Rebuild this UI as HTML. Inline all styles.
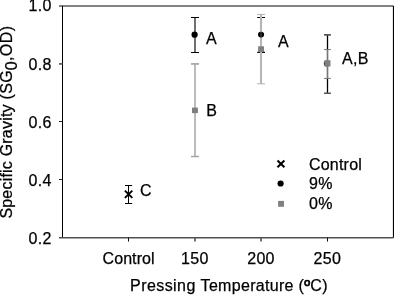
<!DOCTYPE html>
<html><head><meta charset="utf-8"><title>Specific Gravity vs Pressing Temperature</title>
<style>
html,body{margin:0;padding:0;background:#fff;}
svg{display:block;}
text{font-family:"Liberation Sans",Arial,Helvetica,sans-serif;font-size:16px;letter-spacing:0.3px;fill:#000;stroke:#000;stroke-width:0.25px;}
</style></head><body>
<svg width="394" height="295" viewBox="0 0 394 295">
<rect width="394" height="295" fill="#fff"/>
<!-- axes -->
<g fill="none" stroke-width="1">
<path d="M59 6H393" stroke="#5a5a5a" stroke-width="1.5"/>
<path d="M62.5 5.8V237.6" stroke="#000"/>
<path d="M393.45 5.8V237.8" stroke="#000" stroke-width="1.1"/>
<path d="M59 237.75H393.5" stroke="#505050" stroke-width="1.7"/>
<path d="M59 63.9H62.5" stroke="#626262" stroke-width="1.8"/><path d="M59 121.5H62.5M59 179.5H62.5" stroke="#222" stroke-width="1.05"/>
<path d="M128.5 237.6V241.6M327.5 237.6V241.6" stroke="#111" stroke-width="1"/><path d="M195 237.6V241.6M261 237.6V241.6" stroke="#5a5a5a" stroke-width="1.7"/>
</g>
<!-- y tick labels -->
<g text-anchor="end">
<text x="51.6" y="11.2">1.0</text>
<text x="51.6" y="70.1">0.8</text>
<text x="51.6" y="128">0.6</text>
<text x="51.6" y="185.9">0.4</text>
<text x="51.6" y="243.6">0.2</text>
</g>
<!-- x tick labels -->
<g text-anchor="middle">
<text x="128.6" y="264.2" style="letter-spacing:0.08px">Control</text>
<text x="194.8" y="264">150</text>
<text x="261" y="264">200</text>
<text x="327.3" y="264">250</text>
<text x="130.1" y="291.3" text-anchor="start" style="letter-spacing:0.31px"><tspan style="letter-spacing:0.42px">Pressing </tspan>Temperature (<tspan style="stroke-width:0.7px">º</tspan>C)</text>
</g>
<text transform="translate(12.2,218.6) rotate(-90)" style="letter-spacing:0.43px"><tspan style="letter-spacing:0.2px">Specific Gravity </tspan>(SG<tspan dx="-0.5" dy="4.5">0</tspan><tspan dy="-4.5">,OD)</tspan></text>

<!-- 150: 0% -->
<g fill="none">
<path d="M195 64V156.5" stroke="#bcbcbc" stroke-width="2"/>
<path d="M191 63.9H199" stroke="#a6a6a6" stroke-width="1.7"/>
<path d="M191 156.5H199" stroke="#a4a4a4" stroke-width="1.5"/>
</g>
<rect x="192" y="107.6" width="5.9" height="5.5" fill="#7e7e7e"/>
<!-- 150: 9% -->
<g fill="none">
<path d="M195 17.5V52.5" stroke="#707070" stroke-width="2"/>
<path d="M191 17.5H199M191 52.5H199" stroke="#000" stroke-width="1.1"/>
</g>
<circle cx="194.6" cy="34.7" r="3.1" fill="#000"/>

<!-- 200 -->
<g fill="none">
<path d="M257.2 17.5H265M257.2 52.4H265" stroke="#000" stroke-width="1.1"/>
<path d="M261 14.4V83.8" stroke="#b6b6b6" stroke-width="2.1"/>
<path d="M257.2 14.4H265M257.2 83.8H265" stroke="#b0b0b0" stroke-width="1"/>
</g>
<ellipse cx="261.05" cy="34.6" rx="3.05" ry="2.85" fill="#000"/>
<path d="M261 32V37.2" stroke="#666" stroke-width="0.8" fill="none"/>
<rect x="258.1" y="46.3" width="5.9" height="5.8" fill="#808080"/>

<!-- 250 -->
<g fill="none">
<path d="M327.5 34.9V93.2" stroke="#000" stroke-width="1.3"/>
<path d="M324 34.9H330.9M324 93.2H330.9" stroke="#585858" stroke-width="1.6"/>
</g>
<circle cx="326.8" cy="63.4" r="3" fill="#222"/>
<g fill="none">
<path d="M327.5 49.6V78.4" stroke="#787878" stroke-width="1.15"/>
<path d="M324 49.6H330.9M324 78.4H330.9" stroke="#777" stroke-width="1"/>
</g>
<rect x="324.5" y="60.2" width="6" height="6.3" fill="#808080"/>

<!-- control -->
<g fill="none" stroke="#000">
<path d="M128.5 185.5V203.5" stroke-width="1.05"/>
<path d="M125 185.5H132.2M125 203.5H132.2" stroke-width="1"/>
<path d="M124.9 190.6L132.3 197.9M132.3 190.6L124.9 197.9" stroke-width="2"/>
</g>

<!-- letters -->
<text x="140" y="196">C</text>
<text x="206" y="44.2">A</text>
<text x="206.3" y="115.8">B</text>
<text x="278" y="46.8">A</text>
<text x="342" y="63.8">A,B</text>

<!-- legend -->
<path d="M277.5 160.5L284.4 167.3M284.4 160.5L277.5 167.3" stroke="#000" stroke-width="2" fill="none"/>
<circle cx="280.6" cy="183.5" r="3.1" fill="#000"/>
<rect x="278.1" y="200.9" width="5.9" height="5.9" fill="#808080"/>
<text x="309" y="169.6" style="letter-spacing:0.2px">Control</text>
<text x="309" y="189.4">9%</text>
<text x="309" y="209">0%</text>
</svg>
</body></html>
